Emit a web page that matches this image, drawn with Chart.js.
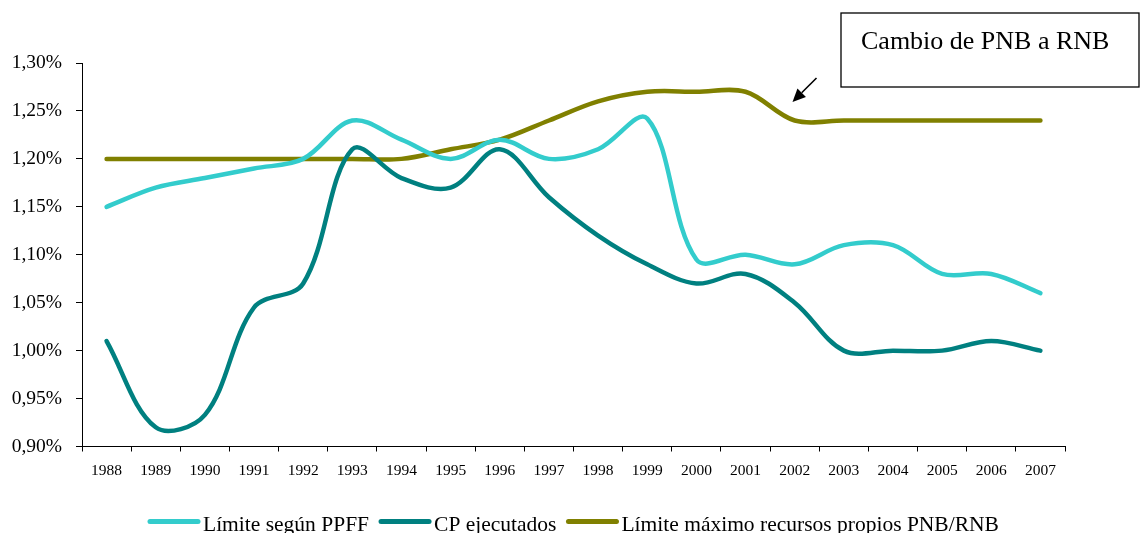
<!DOCTYPE html>
<html>
<head>
<meta charset="utf-8">
<script src="https://cdn.jsdelivr.net/npm/chart.js@4.4.1/dist/chart.umd.min.js"></script>
<style>
html,body{margin:0;padding:0;background:#fff;overflow:hidden}
#wrap{width:1141px;height:533px;position:relative}
canvas{display:block}
</style>
</head>
<body>
<div id="wrap"><canvas id="c" width="1141" height="533"></canvas></div>
<script>
const years = ['1988','1989','1990','1991','1992','1993','1994','1995','1996','1997','1998','1999','2000','2001','2002','2003','2004','2005','2006','2007'];
const limitePPFF = [1.15,1.17,1.18,1.19,1.20,1.24,1.22,1.20,1.22,1.20,1.21,1.242,1.095,1.10,1.09,1.11,1.11,1.08,1.08,1.06];
const cpEjecutados = [1.01,0.92,0.933,1.045,1.07,1.21,1.18,1.17,1.21,1.16,1.12,1.09,1.07,1.08,1.05,1.00,1.00,1.00,1.01,1.00];
const limiteMaximo = [1.20,1.20,1.20,1.20,1.20,1.20,1.20,1.21,1.22,1.24,1.26,1.27,1.27,1.27,1.24,1.24,1.24,1.24,1.24,1.24];
const seriesNames = ['Límite según PPFF','CP ejecutados','Límite máximo recursos propios PNB/RNB'];
const seriesColors = ['#33CCCC','#008080','#808000'];
const yTickValues = [0.90,0.95,1.00,1.05,1.10,1.15,1.20,1.25,1.30];
const annotationText = 'Cambio de PNB a RNB';

const SERIF = '"Liberation Serif", "Times New Roman", Times, serif';

const overlay = {
  id: 'overlay',
  afterDraw(chart) {
    const ctx = chart.ctx;
    ctx.save();
    // legend
    ctx.font = '21.5px ' + SERIF;
    ctx.textBaseline = 'alphabetic';
    ctx.textAlign = 'left';
    let x = 148;
    chart.data.datasets.forEach(ds => {
      ctx.strokeStyle = ds.borderColor;
      ctx.lineWidth = 5;
      ctx.lineCap = 'round';
      ctx.beginPath();
      ctx.moveTo(x + 2, 521.5);
      ctx.lineTo(x + 50, 521.5);
      ctx.stroke();
      ctx.fillStyle = '#000';
      ctx.fillText(ds.label, x + 55, 531);
      x += 55 + ctx.measureText(ds.label).width + 10;
    });
    // annotation box
    ctx.strokeStyle = '#000';
    ctx.lineWidth = 1.3;
    ctx.strokeRect(841, 13, 298, 74);
    ctx.font = '26px ' + SERIF;
    ctx.fillStyle = '#000';
    ctx.fillText(annotationText, 861, 49);
    // arrow
    const x1 = 816.5, y1 = 78, x2 = 792.5, y2 = 102;
    const ang = Math.atan2(y2 - y1, x2 - x1);
    const hl = 13, hw = 6;
    const bx = x2 - hl * Math.cos(ang), by = y2 - hl * Math.sin(ang);
    ctx.lineWidth = 1.6;
    ctx.lineCap = 'butt';
    ctx.beginPath();
    ctx.moveTo(x1, y1);
    ctx.lineTo(bx, by);
    ctx.stroke();
    ctx.beginPath();
    ctx.moveTo(x2, y2);
    ctx.lineTo(bx + hw * Math.sin(ang), by - hw * Math.cos(ang));
    ctx.lineTo(bx - hw * Math.sin(ang), by + hw * Math.cos(ang));
    ctx.closePath();
    ctx.fill();
    ctx.restore();
  }
};

const seriesData = [limitePPFF, cpEjecutados, limiteMaximo];
new Chart(document.getElementById('c'), {
  type: 'line',
  data: {
    labels: years,
    datasets: seriesData.map((d, i) => ({
      label: seriesNames[i],
      data: d,
      borderColor: seriesColors[i],
      backgroundColor: seriesColors[i],
      borderWidth: 4.5,
      borderCapStyle: 'round',
      borderJoinStyle: 'round',
      pointRadius: 0,
      pointHoverRadius: 0,
      tension: 0.35,
      fill: false
    }))
  },
  options: {
    responsive: false,
    animation: false,
    devicePixelRatio: 1,
    layout: { padding: { top: 63, right: 76, left: 0, bottom: 46.5 } },
    plugins: { legend: { display: false }, tooltip: { enabled: false } },
    scales: {
      x: {
        offset: true,
        grid: { offset: true, drawOnChartArea: false, drawTicks: true, tickLength: 5, color: '#000' },
        border: { display: true, color: '#000', width: 1 },
        ticks: { color: '#000', font: { family: SERIF, size: 15.5 }, padding: 10, maxRotation: 0, autoSkip: false },
        afterFit(s) { s.height = 40; }
      },
      y: {
        min: 0.9,
        max: 1.3,
        grid: { drawOnChartArea: false, drawTicks: true, tickLength: 6, color: '#000' },
        border: { display: true, color: '#000', width: 1 },
        afterBuildTicks(s) { s.ticks = yTickValues.map(v => ({ value: v })); },
        ticks: {
          color: '#000',
          font: { family: SERIF, size: 19.5 },
          padding: 14,
          callback: v => Number(v).toFixed(2).replace('.', ',') + '%'
        },
        afterFit(s) { s.width = 82; }
      }
    }
  },
  plugins: [overlay]
});
</script>
</body>
</html>
